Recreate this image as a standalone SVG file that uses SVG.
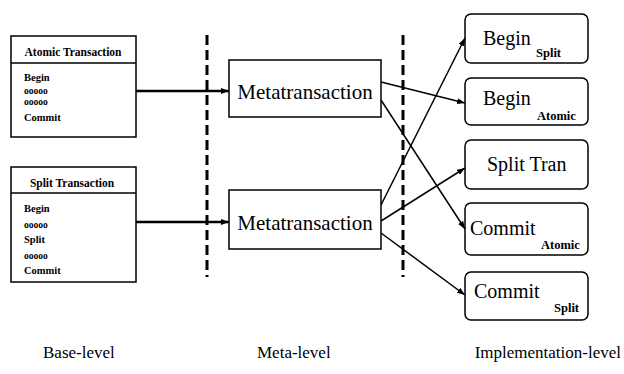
<svg xmlns="http://www.w3.org/2000/svg" width="624" height="374" viewBox="0 0 624 374">
<style>
.bx{fill:#fff;stroke:#000;stroke-width:1.5}
.t{font-family:"Liberation Serif","Times New Roman",serif;fill:#000}
.sm{font-size:10.5px;font-weight:bold}
.oo{font-size:9.5px;font-weight:bold}
.hd{font-size:11.5px;font-weight:bold}
.big{font-size:20px}
.meta{font-size:21px}
.sub{font-size:12.5px;font-weight:bold}
.lbl{font-size:17px}
.dash{stroke:#000;stroke-width:3;stroke-dasharray:10 5;fill:none}
.c{stroke:#000;stroke-width:1.5;fill:none;marker-end:url(#ah)}
.ck{stroke:#000;stroke-width:2.5;fill:none;marker-end:url(#ah)}
</style>
<defs>
<marker id="ah" markerWidth="8" markerHeight="6" refX="8" refY="3" orient="auto" markerUnits="userSpaceOnUse">
<path d="M0,0 L8,3 L0,6 Z" fill="#000"/>
</marker>
</defs>
<rect width="624" height="374" fill="#fff"/>

<g id="separators">
<line class="dash" x1="207" y1="35" x2="207" y2="277"/>
<line class="dash" x1="403" y1="35" x2="403" y2="277"/>
</g>

<g id="atomic-transaction">
<rect class="bx" x="11" y="36" width="125" height="101"/>
<line x1="11" y1="63" x2="136" y2="63" stroke="#000" stroke-width="1.5"/>
<text class="t hd" x="73" y="56" text-anchor="middle">Atomic Transaction</text>
<text class="t sm" x="24" y="81">Begin</text>
<text class="t oo" x="24" y="94">ooooo</text>
<text class="t oo" x="24" y="105">ooooo</text>
<text class="t sm" x="24" y="121">Commit</text>
</g>

<g id="split-transaction">
<rect class="bx" x="11" y="167" width="125" height="115"/>
<line x1="11" y1="193" x2="136" y2="193" stroke="#000" stroke-width="1.5"/>
<text class="t hd" x="72" y="187" text-anchor="middle">Split Transaction</text>
<text class="t sm" x="24" y="212">Begin</text>
<text class="t oo" x="24" y="228">ooooo</text>
<text class="t sm" x="24" y="243">Split</text>
<text class="t oo" x="24" y="259">ooooo</text>
<text class="t sm" x="24" y="274">Commit</text>
</g>

<g id="meta1">
<rect class="bx" x="229" y="60" width="152" height="57"/>
<text class="t meta" x="305" y="99" text-anchor="middle">Metatransaction</text>
</g>

<g id="meta2">
<rect class="bx" x="229" y="190" width="152" height="59"/>
<text class="t meta" x="305" y="230" text-anchor="middle">Metatransaction</text>
</g>

<g id="begin-split">
<rect class="bx" x="465" y="14" width="123" height="49" rx="6"/>
<text class="t big" x="483" y="45">Begin</text>
<text class="t sub" x="536" y="57">Split</text>
</g>

<g id="begin-atomic">
<rect class="bx" x="465" y="78" width="123" height="47" rx="6"/>
<text class="t big" x="483" y="105">Begin</text>
<text class="t sub" x="537" y="120">Atomic</text>
</g>

<g id="split-tran">
<rect class="bx" x="465" y="140" width="123" height="49" rx="6"/>
<text class="t big" x="487" y="171">Split Tran</text>
</g>

<g id="commit-atomic">
<rect class="bx" x="465" y="203" width="123" height="52" rx="6"/>
<text class="t big" x="470" y="235">Commit</text>
<text class="t sub" x="541" y="249">Atomic</text>
</g>

<g id="commit-split">
<rect class="bx" x="465" y="272" width="123" height="48" rx="6"/>
<text class="t big" x="474" y="298">Commit</text>
<text class="t sub" x="554" y="312">Split</text>
</g>

<g id="connectors">
<line class="ck" x1="136" y1="91" x2="229" y2="91"/>
<line class="ck" x1="136" y1="222" x2="229" y2="222"/>
<line class="c" x1="381" y1="82" x2="465" y2="103"/>
<line class="c" x1="381" y1="100" x2="465" y2="229"/>
<line class="c" x1="381" y1="205" x2="465" y2="38"/>
<line class="c" x1="381" y1="221" x2="465" y2="168"/>
<line class="c" x1="381" y1="233" x2="465" y2="295"/>
</g>

<g id="labels">
<text class="t lbl" x="43" y="358">Base-level</text>
<text class="t lbl" x="257" y="358">Meta-level</text>
<text class="t lbl" x="621" y="358" text-anchor="end">Implementation-level</text>
</g>
</svg>
